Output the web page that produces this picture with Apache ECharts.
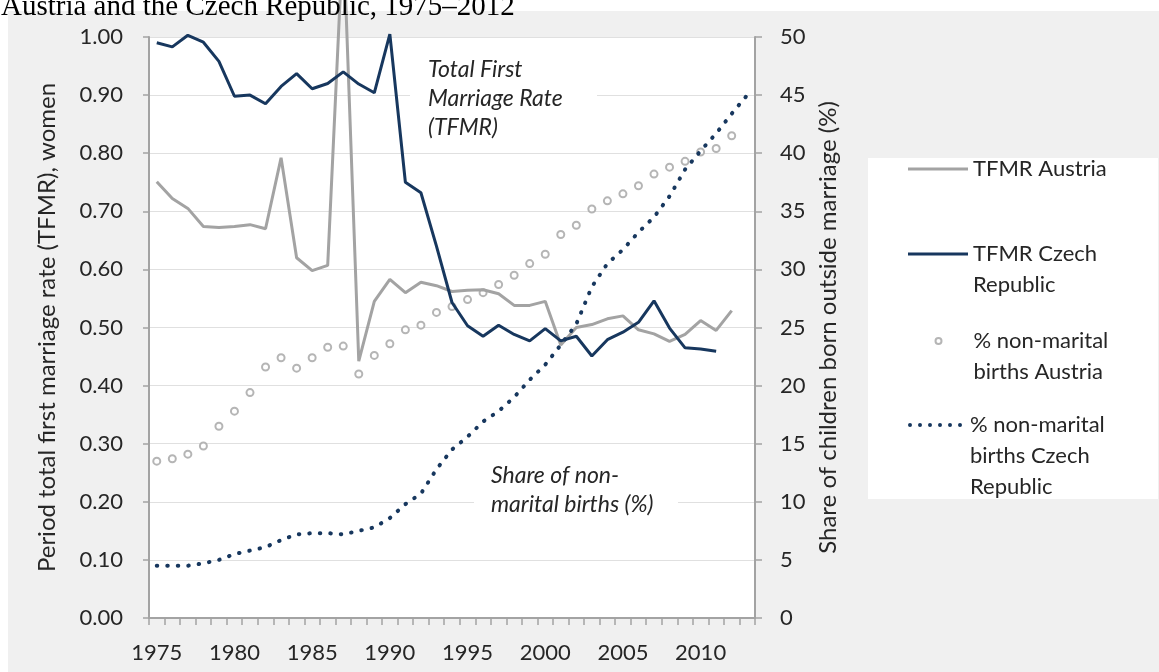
<!DOCTYPE html>
<html>
<head>
<meta charset="utf-8">
<script src="https://cdn.jsdelivr.net/npm/echarts@6/dist/echarts.min.js"></script>
<style>
  html, body { margin: 0; padding: 0; background: #fff; }
  #chart { width: 1159px; height: 672px; }
</style>
</head>
<body>
<div id="chart"></div>
<script>
var years = [];
for (var y = 1975; y <= 2013; y++) years.push(String(y));

// period total first marriage rate, women (left axis)
var tfmrAustria = [0.751, 0.722, 0.705, 0.674, 0.672, 0.674, 0.677, 0.670, 0.792, 0.620,
    0.598, 0.607, 1.18, 0.442, 0.545, 0.583, 0.560, 0.578, 0.572, 0.562,
    0.564, 0.565, 0.558, 0.538, 0.538, 0.545, 0.470, 0.500, 0.505, 0.515,
    0.520, 0.496, 0.489, 0.476, 0.488, 0.512, 0.495, 0.529, null];
var tfmrCzech = [0.990, 0.983, 1.003, 0.991, 0.958, 0.898, 0.900, 0.885, 0.915, 0.937,
    0.911, 0.920, 0.940, 0.919, 0.904, 1.005, 0.750, 0.732, 0.640, 0.543,
    0.503, 0.485, 0.504, 0.488, 0.477, 0.498, 0.477, 0.485, 0.451, 0.479,
    0.492, 0.509, 0.546, 0.499, 0.465, 0.463, 0.459, null, null];

// share of births outside marriage, % (right axis)
var nonMaritalAustria = [13.5, 13.7, 14.1, 14.8, 16.5, 17.8, 19.4, 21.6, 22.4, 21.5,
    22.4, 23.3, 23.4, 21.0, 22.6, 23.6, 24.8, 25.2, 26.3, 26.8,
    27.4, 28.0, 28.7, 29.5, 30.5, 31.3, 33.0, 33.8, 35.2, 35.9,
    36.5, 37.2, 38.2, 38.8, 39.3, 40.1, 40.4, 41.5, null];
var nonMaritalCzech = [4.5, 4.5, 4.5, 4.7, 5.0, 5.5, 5.8, 6.1, 6.7, 7.2,
    7.3, 7.3, 7.2, 7.5, 7.8, 8.6, 9.8, 10.7, 12.8, 14.5,
    15.6, 16.9, 17.8, 19.0, 20.5, 21.8, 23.5, 25.3, 28.5, 30.5,
    31.7, 33.2, 34.5, 36.3, 38.6, 40.2, 41.7, 43.4, 45.0];

var names = ['TFMR Austria', 'TFMR Czech Republic', '% non-marital births Austria', '% non-marital births Czech Republic'];
var legendText = ['TFMR Austria', 'TFMR Czech\nRepublic', '% non-marital\nbirths Austria', '% non-marital\nbirths Czech\nRepublic'];

var grey = '#a3a3a3';
var navy = '#17375e';
var txt = '#262626';
var font = 'Lato';
var fs = 22;
var lh = 31;

var chart = echarts.init(document.getElementById('chart'));

// one legend block per series; blank lines on top keep the first line level with the icon
function legendBlock(i, icon, iconW, iconH, left, centerY) {
    var lines = legendText[i].split('\n');
    var label = new Array(lines.length).join('\n') + legendText[i];
    var half = (2 * lines.length - 1) * lh / 2;
    return {
        orient: 'vertical',
        left: left,
        top: centerY - half,
        padding: 0,
        itemWidth: iconW,
        itemHeight: iconH,
        selectedMode: false,
        data: [{ name: names[i], icon: icon }],
        formatter: function () { return label; },
        textStyle: { color: txt, fontFamily: font, fontSize: fs, lineHeight: lh }
    };
}

var dots = 'path://';
for (var d = 0; d < 6; d++) {
    var cx = 2 + d * 10;
    dots += 'M' + (cx - 2) + ',2 A2,2 0 1,1 ' + (cx + 2) + ',2 A2,2 0 1,1 ' + (cx - 2) + ',2 Z ';
}

var option = {
    backgroundColor: '#fff',
    animation: false,
    textStyle: { fontFamily: font },
    graphic: [
        { type: 'rect', z: -10, shape: { x: 8, y: 11, width: 1151, height: 661 }, style: { fill: '#f0f0f0' } },
        { type: 'text', z: 10, x: 1, y: 7, style: {
            text: 'Austria and the Czech Republic, 1975–2012', font: '29px "Liberation Serif"',
            fill: '#000', verticalAlign: 'middle' } },
        { type: 'rect', z: 1, shape: { x: 410, y: 55, width: 187, height: 86 }, style: { fill: '#fff' } },
        { type: 'text', z: 1, x: 428, y: 55, style: {
            text: 'Total First\nMarriage Rate\n(TFMR)', font: 'italic 23px ' + font,
            lineHeight: 29, fill: txt } },
        { type: 'rect', z: 1, shape: { x: 474, y: 462, width: 204, height: 60 }, style: { fill: '#fff' } },
        { type: 'text', z: 1, x: 491, y: 461, style: {
            text: 'Share of non-\nmarital births (%)', font: 'italic 23px ' + font,
            lineHeight: 29, fill: txt } },
        { type: 'rect', z: 1, shape: { x: 868, y: 158, width: 290, height: 341 }, style: { fill: '#fff' } }
    ],
    legend: [
        legendBlock(0, 'rect', 60, 3, 908, 169),
        legendBlock(1, 'rect', 60, 3, 908, 254),
        legendBlock(2, 'emptyCircle', 60, 6, 934.5, 341),
        legendBlock(3, dots, 60, 4, 908, 425)
    ],
    grid: { left: 149, top: 37, width: 606, height: 581, show: true, backgroundColor: '#fff', borderWidth: 0 },
    xAxis: {
        type: 'category',
        data: years,
        boundaryGap: true,
        axisLine: { lineStyle: { color: grey, width: 2 } },
        axisTick: { show: true, interval: 0, length: 7, lineStyle: { color: grey, width: 1.5 } },
        axisLabel: { interval: 4, margin: 24, color: txt, fontSize: fs, fontFamily: font }
    },
    yAxis: [{
        type: 'value',
        min: 0, max: 1, interval: 0.1,
        name: 'Period total first marriage rate (TFMR), women',
        nameLocation: 'middle', nameRotate: 90, nameGap: 90,
        nameTextStyle: { color: txt, fontSize: 24, fontFamily: font },
        axisLine: { show: true, lineStyle: { color: grey, width: 2 } },
        axisTick: { show: true, length: 6, lineStyle: { color: grey, width: 1.5 } },
        axisLabel: { margin: 26, color: txt, fontSize: fs, fontFamily: font,
            formatter: function (v) { return v.toFixed(2); } },
        splitLine: { show: true, lineStyle: { color: '#e0e0e0', width: 1 } }
    }, {
        type: 'value',
        min: 0, max: 50, interval: 5,
        name: 'Share of children born outside marriage (%)',
        nameLocation: 'middle', nameRotate: 90, nameGap: 60,
        nameTextStyle: { color: txt, fontSize: 24, fontFamily: font },
        axisLine: { show: true, lineStyle: { color: grey, width: 2 } },
        axisTick: { show: true, length: 7, lineStyle: { color: grey, width: 1.5 } },
        axisLabel: { margin: 25, color: txt, fontSize: fs, fontFamily: font },
        splitLine: { show: false }
    }],
    series: [{
        name: names[0], type: 'line', yAxisIndex: 0, data: tfmrAustria,
        symbol: 'none', clip: false, color: grey,
        lineStyle: { color: grey, width: 3 }
    }, {
        name: names[1], type: 'line', yAxisIndex: 0, data: tfmrCzech,
        symbol: 'none', clip: false, color: navy,
        lineStyle: { color: navy, width: 3 }
    }, {
        name: names[2], type: 'scatter', yAxisIndex: 1, data: nonMaritalAustria,
        symbol: 'emptyCircle', symbolSize: 7, color: grey,
        itemStyle: { color: grey, borderColor: grey, borderWidth: 1.5 }
    }, {
        name: names[3], type: 'line', yAxisIndex: 1, data: nonMaritalCzech,
        symbol: 'none', color: navy,
        lineStyle: { color: navy, width: 4, type: [0.5, 10], cap: 'round' }
    }]
};

chart.setOption(option);
</script>
</body>
</html>
